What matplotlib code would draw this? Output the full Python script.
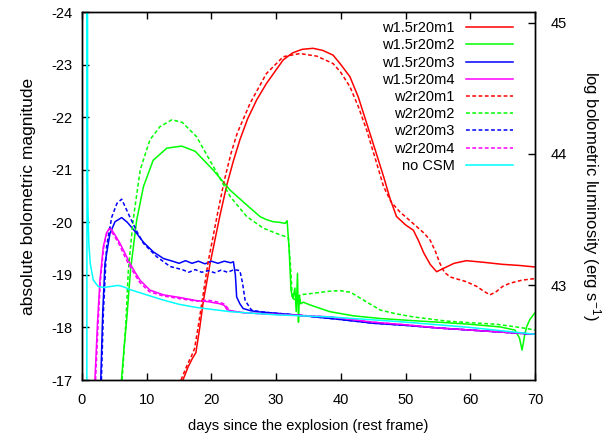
import matplotlib
matplotlib.use("Agg")
import matplotlib.pyplot as plt

plt.rcParams['font.family'] = ['Liberation Sans', 'DejaVu Sans']
plt.rcParams['axes.unicode_minus'] = False
plt.rcParams['mathtext.default'] = 'regular'

# light curves: days since explosion vs absolute bolometric magnitude
w15_m1_days = [15.6, 16.4, 17.1, 17.6, 18.2, 18.75, 19.8, 21.3, 22.4, 23.4, 24.4, 25.6, 27.0,
               28.5, 30.0, 31.1, 32.5, 34.0, 35.7, 37.2, 38.8, 40.0, 41.4, 42.7, 44.0, 45.3,
               46.6, 47.6, 48.6, 50.0, 51.2, 52.0, 52.8, 53.8, 54.8, 55.8, 57.5, 59.4, 62.0,
               65.0, 67.5, 70.0]
w15_m1_mag = [-17.0, -17.25, -17.42, -17.52, -18.0, -18.5, -19.22, -20.12, -20.72, -21.17, -21.57,
              -21.97, -22.33, -22.64, -22.9, -23.09, -23.22, -23.29, -23.31, -23.27, -23.18, -23.0,
              -22.77, -22.38, -21.88, -21.38, -20.87, -20.45, -20.11, -19.95, -19.85, -19.65,
              -19.42, -19.2, -19.06, -19.12, -19.22, -19.27, -19.24, -19.2, -19.18, -19.15]

w2_m1_days = [15.3, 16.3, 16.9, 17.4, 18.0, 18.5, 19.5, 21.0, 22.0, 23.0, 24.0, 26.0, 28.5, 31.1,
              33.7, 36.3, 38.8, 40.0, 41.4, 42.7, 44.0, 45.3, 46.6, 47.8, 49.1, 50.5, 51.7, 52.8,
              53.8, 54.6, 55.3, 56.0, 56.9, 58.0, 59.4, 61.0, 62.2, 63.05, 64.0, 65.0, 66.1,
              68.0, 70.0]
w2_m1_mag = [-17.0, -17.3, -17.45, -17.6, -18.05, -18.45, -19.25, -20.2, -20.8, -21.3, -21.7,
             -22.27, -22.83, -23.15, -23.21, -23.16, -23.02, -22.85, -22.58, -22.2, -21.75, -21.22,
             -20.68, -20.38, -20.2, -20.05, -19.92, -19.8, -19.66, -19.45, -19.22, -19.05, -18.96,
             -18.92, -18.87, -18.78, -18.68, -18.62, -18.68, -18.78, -18.84, -18.9, -18.93]

w15_m2_days = [6.1, 6.5, 6.9, 7.5, 8.45, 9.5, 11.0, 13.1, 15.4, 17.5, 20.3, 22.9, 25.45, 27.5,
               28.5, 29.6, 30.5, 31.4, 31.7, 32.0, 32.3, 32.6, 32.9, 33.1, 33.3, 33.45, 33.6,
               33.8, 34.2, 35.2, 38.3, 42.0, 46.1, 51.0, 56.4, 60.0, 64.6, 66.9, 67.6, 68.0,
               68.4, 68.7, 69.2, 70.0]
w15_m2_mag = [-17.0, -17.6, -18.14, -19.09, -20.04, -20.68, -21.18, -21.41, -21.45, -21.35,
              -20.99, -20.61, -20.33, -20.11, -20.05, -20.01, -20.0, -19.98, -20.03, -19.5,
              -18.7, -18.55, -18.75, -18.3, -19.03, -18.1, -18.6, -18.45, -18.48, -18.43, -18.3,
              -18.22, -18.17, -18.13, -18.09, -18.06, -18.01, -17.95, -17.8, -17.57, -17.85,
              -18.01, -18.15, -18.28]

w2_m2_days = [6.2, 6.8, 7.16, 7.9, 9.0, 10.5, 12.05, 13.9, 15.5, 17.7, 20.3, 22.9, 25.45, 28.0,
              30.0, 31.4, 31.9, 32.2, 32.5, 33.2, 33.7, 35.7, 38.3, 39.9, 41.5, 43.5, 46.1, 48.5,
              51.2, 56.4, 60.0, 64.1, 66.5, 68.7, 70.0]
w2_m2_mag = [-17.0, -18.14, -19.09, -20.04, -21.0, -21.57, -21.82, -21.95, -21.9, -21.63, -21.06,
             -20.49, -20.11, -19.89, -19.79, -19.73, -19.7, -19.2, -18.55, -18.52, -18.62, -18.65,
             -18.69, -18.7, -18.67, -18.52, -18.33, -18.26, -18.2, -18.12, -18.09, -18.06,
             -18.02, -17.98, -17.95]

w15_m3_days = [2.9, 3.2, 3.55, 4.33, 5.1, 6.13, 7.0, 8.45, 9.5, 11.0, 12.6, 14.0, 15.0, 16.0,
               17.0, 18.0, 19.0, 20.0, 21.0, 22.0, 23.0, 23.4, 23.7, 23.9, 24.4, 24.9, 26.0,
               27.0, 29.05, 32.0, 36.0, 40.0, 45.0, 50.0, 55.0, 60.0, 65.0, 70.0]
w15_m3_mag = [-17.0, -18.27, -19.22, -19.79, -20.01, -20.09, -20.0, -19.79, -19.62, -19.44,
              -19.31, -19.26, -19.22, -19.27, -19.22, -19.26, -19.21, -19.26, -19.22, -19.26,
              -19.23, -19.25, -19.0, -18.58, -18.45, -18.36, -18.32, -18.3, -18.28, -18.25,
              -18.2, -18.15, -18.08, -18.04, -17.99, -17.95, -17.91, -17.87]

w2_m3_days = [3.0, 3.3, 3.8, 4.6, 5.4, 6.13, 7.4, 8.5, 9.5, 11.5, 13.6, 15.5, 16.5, 17.5, 18.5,
              19.5, 20.5, 21.5, 22.5, 23.5, 24.4, 24.8, 25.2, 25.7, 26.2, 27.5, 29.0, 32.0, 36.0,
              40.0, 45.0, 50.0, 55.0, 60.0, 65.0, 70.0]
w2_m3_mag = [-17.0, -18.27, -19.54, -20.1, -20.36, -20.44, -20.1, -19.82, -19.6, -19.35, -19.16,
             -19.1, -19.05, -19.1, -19.05, -19.08, -19.04, -19.09, -19.05, -19.1, -19.08, -18.85,
             -18.52, -18.42, -18.33, -18.3, -18.28, -18.25, -18.2, -18.15, -18.08, -18.04,
             -17.99, -17.95, -17.91, -17.87]

w15_m4_days = [2.0, 2.4, 2.78, 3.3, 3.8, 4.33, 5.0, 5.87, 6.6, 7.4, 8.2, 8.96, 10.5, 12.6, 15.1,
               17.7, 19.5, 21.3, 22.0, 22.4, 22.9, 25.0, 28.0, 32.0, 38.3, 45.0, 50.0, 55.0,
               60.0, 65.0, 70.0]
w15_m4_mag = [-17.0, -18.1, -18.9, -19.54, -19.8, -19.9, -19.78, -19.6, -19.42, -19.22, -19.05,
              -18.9, -18.71, -18.62, -18.57, -18.51, -18.49, -18.45, -18.42, -18.34, -18.32,
              -18.28, -18.26, -18.24, -18.2, -18.1, -18.05, -17.99, -17.95, -17.91, -17.87]

w2_m4_days = [2.1, 2.5, 2.85, 3.35, 3.8, 4.2, 4.9, 5.8, 6.5, 7.3, 8.1, 8.9, 10.4, 12.5, 15.0,
              17.6, 19.4, 21.2, 21.9, 22.6, 23.1, 25.0, 28.0, 32.0, 38.3, 45.0, 50.0, 55.0,
              60.0, 65.0, 70.0]
w2_m4_mag = [-17.0, -18.1, -18.9, -19.52, -19.78, -19.88, -19.76, -19.57, -19.38, -19.18,
             -19.02, -18.86, -18.68, -18.6, -18.55, -18.5, -18.52, -18.48, -18.45, -18.36,
             -18.31, -18.28, -18.26, -18.24, -18.2, -18.1, -18.05, -17.99, -17.95, -17.91,
             -17.87]

nocsm_days = [0.75, 0.79, 0.84, 0.88, 0.93, 1.0, 1.08, 1.3, 1.75, 2.5, 3.3, 4.5, 5.6, 6.5, 7.4,
              10.0, 12.6, 15.0, 17.7, 22.9, 30.0, 38.3, 49.1, 60.0, 70.0]
nocsm_mag = [-16.5, -26.0, -26.0, -20.8, -20.2, -19.85, -19.54, -19.2, -18.9, -18.78, -18.76,
             -18.78, -18.8, -18.77, -18.72, -18.62, -18.52, -18.44, -18.38, -18.3, -18.24, -18.2,
             -18.11, -18.0, -17.87]

labels = ['w1.5r20m1', 'w1.5r20m2', 'w1.5r20m3', 'w1.5r20m4',
          'w2r20m1', 'w2r20m2', 'w2r20m3', 'w2r20m4', 'no CSM']

series = [
    (w15_m1_days, w15_m1_mag, '#ff0000', '-'),
    (w15_m2_days, w15_m2_mag, '#00ff00', '-'),
    (w15_m3_days, w15_m3_mag, '#0000ff', '-'),
    (w15_m4_days, w15_m4_mag, '#ff00ff', '-'),
    (w2_m1_days, w2_m1_mag, '#ff0000', '--'),
    (w2_m2_days, w2_m2_mag, '#00ff00', '--'),
    (w2_m3_days, w2_m3_mag, '#0000ff', '--'),
    (w2_m4_days, w2_m4_mag, '#ff00ff', '--'),
    (nocsm_days, nocsm_mag, '#00ffff', '-'),
]

fig = plt.figure(figsize=(6.16, 4.37), dpi=100)
ax = fig.add_axes([0.1331, 0.1304, 0.7354, 0.8421])

for (d, m, c, ls), lab in zip(series, labels):
    line, = ax.plot(d, m, color=c, lw=1.1, label=lab)
    if ls == '--':
        line.set_dashes((2.5, 1.6))

ax.set_xlim(0, 70)
ax.set_ylim(-17, -24)
ax.set_xticks(range(0, 71, 10))
ax.set_yticks(range(-24, -16))
ax.tick_params(direction='in', length=5, width=1, top=True, right=False,
               labelsize=10.5)
ax.tick_params(axis='x', pad=9)
ax.tick_params(axis='y', pad=7)
ax.set_xlabel('days since the explosion (rest frame)', fontsize=10.5, labelpad=9)
ax.set_ylabel('absolute bolometric magnitude', fontsize=12.5, labelpad=11)

# right axis: log L = 35.48 - 0.4 M
ax2 = ax.twinx()
ax2.set_ylim(35.48 + 0.4 * 17, 35.48 + 0.4 * 24)
ax2.set_yticks([43, 44, 45])
ax2.tick_params(direction='in', length=5, width=1, labelsize=10.5, pad=11)
ax2.set_ylabel('log bolometric luminosity (erg s$^{-1}$)', fontsize=12,
               rotation=270, labelpad=26)

for a in (ax, ax2):
    for s in a.spines.values():
        s.set_linewidth(1.0)

ax.legend(loc='upper right', bbox_to_anchor=(0.951, 0.975), frameon=False,
          markerfirst=False, fontsize=10.5, handlelength=3.2, handletextpad=0.8,
          labelspacing=0.22, borderpad=0, borderaxespad=0)

fig.savefig('out.png', dpi=100)
